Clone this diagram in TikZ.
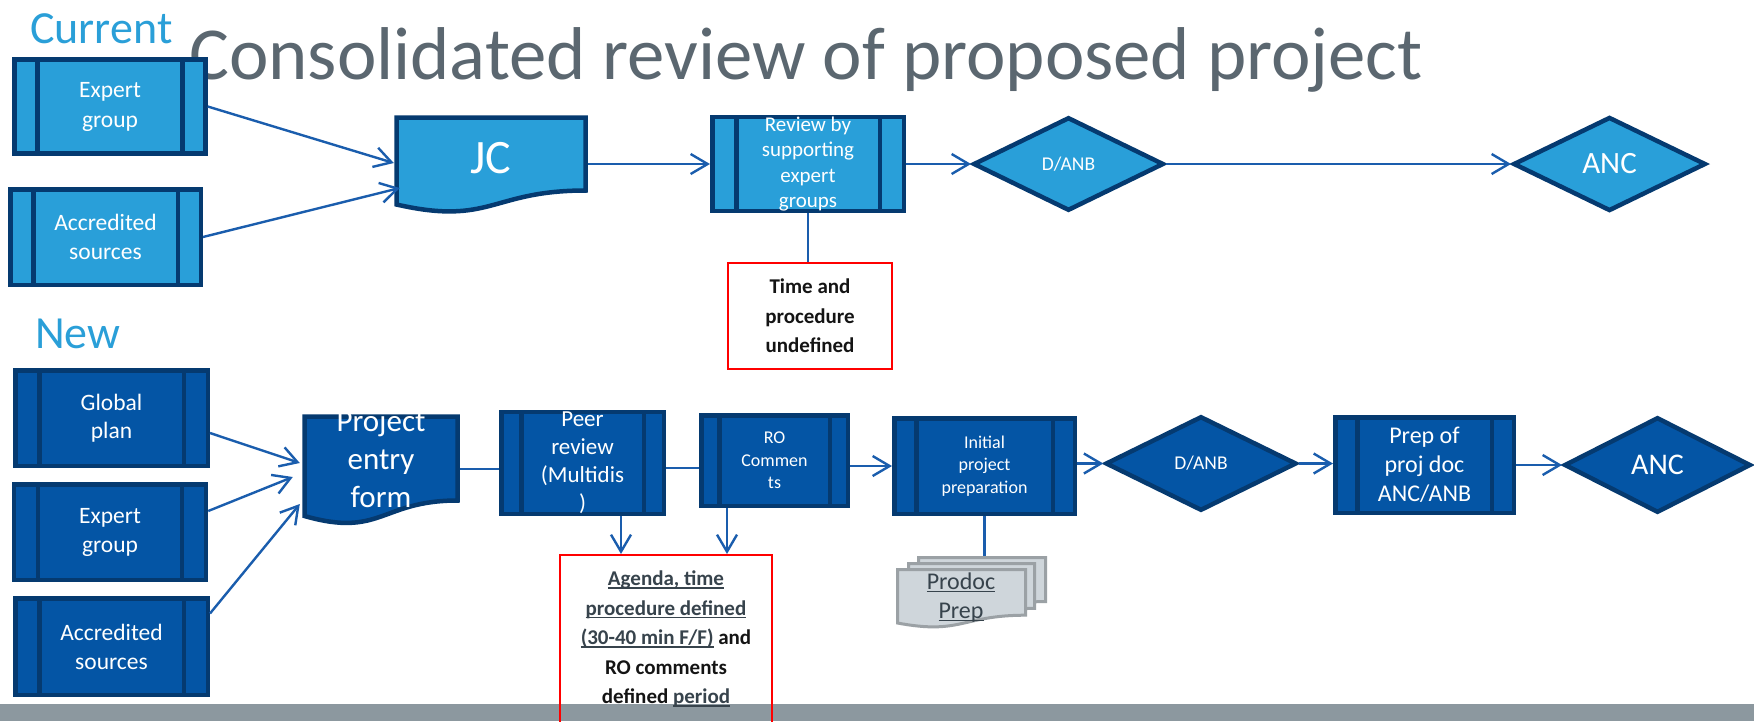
\documentclass[tikz,border=0pt]{standalone}
\usepackage{fontspec}
\setmainfont{Carlito}
\usetikzlibrary{arrows.meta,shapes.geometric}
\definecolor{lfill}{HTML}{299FD9}
\definecolor{dfill}{HTML}{0455A5}
\definecolor{bd}{HTML}{053A70}
\definecolor{arr}{HTML}{1A5DAD}
\definecolor{ttl}{HTML}{5B6770}
\definecolor{lbl}{HTML}{2A9FD8}
\definecolor{barc}{HTML}{8C989F}
\definecolor{pdfill}{HTML}{CFD6DB}
\definecolor{pdbd}{HTML}{9BA1A5}
\definecolor{ulc}{HTML}{37434C}
\definecolor{notetext}{HTML}{141414}
\newcommand\fsz[2]{\fontsize{#1}{#2}\selectfont}
\newcommand\myul[1]{\leavevmode\setbox0\hbox{#1}\rlap{\rule[-3pt]{\wd0}{1.3pt}}\box0}
\begin{document}
\begin{tikzpicture}[x=1pt,y=-1pt,
 ppbox/.style={draw=bd, line width=4.5pt, text=white, align=center, inner sep=0pt,
   path picture={\draw[bd,line width=4.5pt]
     ([xshift=#1]path picture bounding box.north west) -- ([xshift=#1]path picture bounding box.south west)
     ([xshift=-#1]path picture bounding box.north east) -- ([xshift=-#1]path picture bounding box.south east);}},
 dia/.style={diamond, draw=bd, line width=4.5pt, text=white, inner sep=0pt, aspect=2},
 docshape/.style={draw=bd, line width=4.5pt},
 pdshape/.style={draw=pdbd, fill=pdfill, line width=3pt},
 doctext/.style={text=white, align=center, inner sep=0pt},
 flow/.style={draw=arr, line width=2.4pt, -{Straight Barb[length=17pt,width=20pt]}},
 link/.style={draw=arr, line width=2.4pt},
 note/.style={draw=red, line width=2pt, align=center, inner sep=0pt, text=notetext, font=\bfseries\fsz{21}{29.5}},
 lbltext/.style={text=lbl, anchor=base west, inner sep=0pt, font=\fsz{46}{50}},
]
\useasboundingbox (0,0) rectangle (1754,721);
\clip (0,0) rectangle (1754,721);
\fill[white] (0,0) rectangle (1754,721);
\fill[barc] (0,704) rectangle (1754,721);

% titles
\node[anchor=base west, inner sep=0pt, text=ttl, font=\fsz{74.8}{80}] (title) at (189,79) {Consolidated review of proposed project};
\node[lbltext] (cur) at (30,43) {Current};
\node[lbltext] (new) at (35,348) {New};

% ---------- Current row ----------
\node[ppbox=23pt, fill=lfill, minimum width=191pt, minimum height=94pt, font=\fsz{23.5}{30}] (eg1) at (110,106.5) {Expert\\group};
\node[ppbox=23pt, fill=lfill, minimum width=190.5pt, minimum height=95.5pt, font=\fsz{23.5}{29}] (as1) at (105.5,237) {Accredited\\sources};
\draw[docshape, fill=lfill] (396.5,117.5) -- (585.5,117.5) -- (585.5,190.5) .. controls (491,190.5) and (491,226) .. (396.5,204.5) -- cycle;
\node[doctext, font=\fsz{48}{52}, minimum width=194pt, minimum height=86pt] (jc) at (491,158) {JC};
\node[ppbox=24pt, fill=lfill, minimum width=191.5pt, minimum height=93.5pt, font=\fsz{21}{25.3}] (rv) at (808,164) {Review by\\supporting\\expert\\groups};
\node[dia, fill=lfill, minimum width=190.5pt, minimum height=93.5pt, font=\fsz{19.5}{22}] (dan1) at (1068.5,164) {D/ANB};
\node[dia, fill=lfill, minimum width=192.5pt, minimum height=94pt, font=\fsz{31}{34}] (anc1) at (1609.5,164) {ANC};
\node[note, minimum width=164pt, minimum height=106pt] (tm) at (810,316) {Time and\\procedure\\undefined};

\draw[flow] (eg1.east) -- ([yshift=-5pt]jc.west);
\draw[flow] (as1.east) -- ([xshift=6pt,yshift=-30pt]jc.west);
\draw[flow] (rv.west -| jc.east) -- (rv.west);
\draw[flow] (rv.east) -- (dan1.west);
\draw[flow] (dan1.east) -- (anc1.west);
\draw[link] (rv.south) -- (rv.south |- tm.north);

% ---------- New row ----------
\node[ppbox=24pt, fill=dfill, minimum width=192.5pt, minimum height=95.5pt, font=\fsz{23.5}{28.5}] (gp) at (111.5,418) {Global\\plan};
\node[ppbox=24pt, fill=dfill, minimum width=192pt, minimum height=95.5pt, font=\fsz{23.5}{29}] (eg2) at (110,532) {Expert\\group};
\node[ppbox=24pt, fill=dfill, minimum width=192.5pt, minimum height=96.5pt, font=\fsz{23.5}{29}] (as2) at (111.5,646.5) {Accredited\\sources};
\draw[docshape, fill=dfill] (304.5,416.5) -- (457.5,416.5) -- (457.5,500.5) .. controls (381,500.5) and (381,538) .. (304.5,516) -- cycle;
\node[doctext, font=\fsz{31}{38}, minimum width=158pt, minimum height=100pt] (pef) at (381,459) {Project\\entry\\form};
\node[ppbox=20pt, fill=dfill, minimum width=162.5pt, minimum height=95.5pt, font=\fsz{23}{28}] (peer) at (582.5,463) {Peer\\review\\(Multidis\\)};
\node[ppbox=18pt, fill=dfill, minimum width=146.5pt, minimum height=90.5pt, font=\fsz{18}{22.5}] (ro) at (774.5,460.5) {RO\\Commen\\ts};
\node[ppbox=22pt, fill=dfill, minimum width=180.5pt, minimum height=95.5pt, font=\fsz{18}{22.5}] (init) at (984.5,466) {Initial\\project\\preparation};
\node[dia, fill=dfill, minimum width=191pt, minimum height=94.5pt, font=\fsz{19.5}{22}] (dan2) at (1201,463.5) {D/ANB};
\node[ppbox=22pt, fill=dfill, minimum width=178.5pt, minimum height=95.5pt, font=\fsz{24}{29}] (prep) at (1424.5,465) {Prep of\\proj doc\\ANC/ANB};
\node[dia, fill=dfill, minimum width=186.5pt, minimum height=95.5pt, font=\fsz{30}{33}] (anc2) at (1657.5,465) {ANC};

% Prodoc stack
\draw[pdshape] (918.5,557.5) -- (1045.5,557.5) -- (1045.5,601.6) .. controls (982,601.6) and (982,620) .. (918.5,609) -- cycle;
\draw[pdshape] (908.5,563.5) -- (1034.5,563.5) -- (1034.5,608.4) .. controls (971.5,608.4) and (971.5,627) .. (908.5,616) -- cycle;
\draw[pdshape] (897.5,569.5) -- (1025.5,569.5) -- (1025.5,615.2) .. controls (961.5,615.2) and (961.5,635) .. (897.5,623) -- cycle;
\node[minimum width=130pt, minimum height=48pt, inner sep=0pt] (pdb) at (982,580) {};
\node[align=center, inner sep=0pt, text=ulc, font=\fsz{24}{29}] (pd) at (961,597.5) {\myul{Prodoc}\\\myul{Prep}};

% agenda note
\node[note, minimum width=212pt, minimum height=168pt] (ag) at (666,639) {\textcolor{ulc}{\myul{Agenda, time}}\\\textcolor{ulc}{\myul{procedure defined}}\\\textcolor{ulc}{\myul{(30-40 min F/F)}} and\\RO comments\\defined \textcolor{ulc}{\myul{period}}};

\draw[flow] ([yshift=-15pt]gp.east) -- ([xshift=-2pt,yshift=-4pt]pef.west);
\draw[flow] ([yshift=21pt]eg2.east) -- ([xshift=-9pt,yshift=-18pt]pef.west);
\draw[flow] ([yshift=33pt]as2.east) -- ([xshift=-2pt,yshift=-45pt]pef.west);
\draw[link] ([yshift=-10pt]pef.east) -- ([yshift=-6pt]peer.west);
\draw[link] ([yshift=-5pt]peer.east) -- ([yshift=-7.5pt]ro.west);
\draw[flow] (init.west -| ro.east) -- (init.west);
\draw[flow] (dan2.west -| init.east) -- (dan2.west);
\draw[flow] (dan2.east) -- (dan2.east -| prep.west);
\draw[flow] (prep.east) -- (anc2.west);
\draw[flow] ([xshift=38.5pt]peer.south) -- ([xshift=-45pt]ag.north);
\draw[flow] ([xshift=-47.5pt]ro.south) -- ([xshift=61pt]ag.north);
\draw[link] (init.south) -- (init.south |- pdb.north);
\end{tikzpicture}
\end{document}
